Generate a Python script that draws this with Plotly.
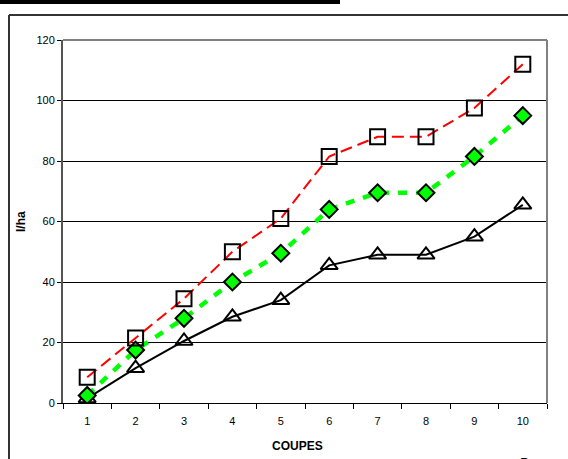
import plotly.graph_objects as go

coupes = ["1", "2", "3", "4", "5", "6", "7", "8", "9", "10"]
serie_carres = [8.5, 21.5, 34.5, 50, 61, 81.5, 88, 88, 97.5, 112]
serie_losanges = [2.5, 17.5, 28, 40, 49.5, 64, 69.5, 69.5, 81.5, 95]
serie_triangles = [1.5, 11.5, 20.5, 28.5, 34, 45.5, 49, 49, 55, 65.5]
y_ticks = [0, 20, 40, 60, 80, 100, 120]

fig = go.Figure()
fig.add_trace(go.Scatter(
    x=coupes, y=serie_triangles, mode="lines+markers",
    line=dict(color="black", width=2),
    marker=dict(symbol="triangle-up-open", size=15, color="black", line=dict(width=2)),
    showlegend=False))
fig.add_trace(go.Scatter(
    x=coupes, y=serie_losanges, mode="lines+markers",
    line=dict(color="#00FF00", width=4.5, dash="9px,9px"),
    marker=dict(symbol="diamond", size=13, color="#00FF00", line=dict(color="black", width=2)),
    showlegend=False))
fig.add_trace(go.Scatter(
    x=coupes, y=serie_carres, mode="lines+markers",
    line=dict(color="#FF0000", width=2, dash="12px,6px"),
    marker=dict(symbol="square-open", size=15, color="black", line=dict(width=2)),
    showlegend=False))

L, T, W, H = 63, 40, 484, 363
def px(x):
    return (x - L) / W
def py(y):
    return (T + H - y) / H

fig.update_layout(
    width=568, height=459,
    margin=dict(l=L, r=568 - L - W, t=T, b=459 - T - H, autoexpand=False),
    paper_bgcolor="white", plot_bgcolor="white",
    font=dict(family="Liberation Sans, Arial, sans-serif", size=11, color="black"),
    xaxis=dict(type="category", tickson="boundaries", ticks="outside", ticklen=5,
               range=[-0.5, 9.5], autorange=False, ticklabelstandoff=8,
               tickcolor="black", showline=True, linecolor="black", linewidth=1,
               showgrid=False, tickfont=dict(size=11), zeroline=False, automargin=False),
    yaxis=dict(range=[0, 120], tickvals=y_ticks, ticks="outside", ticklen=4,
               tickcolor="black", showline=True, linecolor="#555555", linewidth=2,
               showgrid=True, gridcolor="black", gridwidth=1, zeroline=False,
               tickfont=dict(size=11), automargin=False),
    shapes=[
        dict(type="line", xref="paper", yref="paper", x0=0, x1=1, y0=1, y1=1,
             line=dict(color="#808080", width=2)),
        dict(type="line", xref="paper", yref="paper", x0=1, x1=1, y0=0, y1=1,
             line=dict(color="#808080", width=2)),
        dict(type="line", xref="paper", yref="paper", x0=px(9), x1=px(570), y0=py(15), y1=py(15),
             line=dict(color="#333333", width=2)),
        dict(type="line", xref="paper", yref="paper", x0=px(9), x1=px(9), y0=py(15), y1=py(470),
             line=dict(color="#333333", width=2)),
        dict(type="rect", xref="paper", yref="paper", x0=px(-5), x1=px(340), y0=py(4), y1=py(-5),
             fillcolor="black", line=dict(width=0)),
    ],
    annotations=[
        dict(text="<b>l/ha</b>", xref="paper", yref="paper", x=px(21), y=py(222),
             xanchor="center", yanchor="middle",
             textangle=-90, showarrow=False, font=dict(size=12)),
        dict(text="<b>COUPES</b>", xref="paper", yref="paper", x=px(297), y=py(446),
             xanchor="center", yanchor="middle",
             showarrow=False, font=dict(size=12)),
        dict(text="D", xref="paper", yref="paper", x=px(525), y=py(463),
             xanchor="center", yanchor="middle",
             showarrow=False, font=dict(size=14)),
    ],
)

fig.write_html("out.html", config={"displayModeBar": False},
               post_script="document.body.style.margin='0';document.body.style.overflow='hidden';")
